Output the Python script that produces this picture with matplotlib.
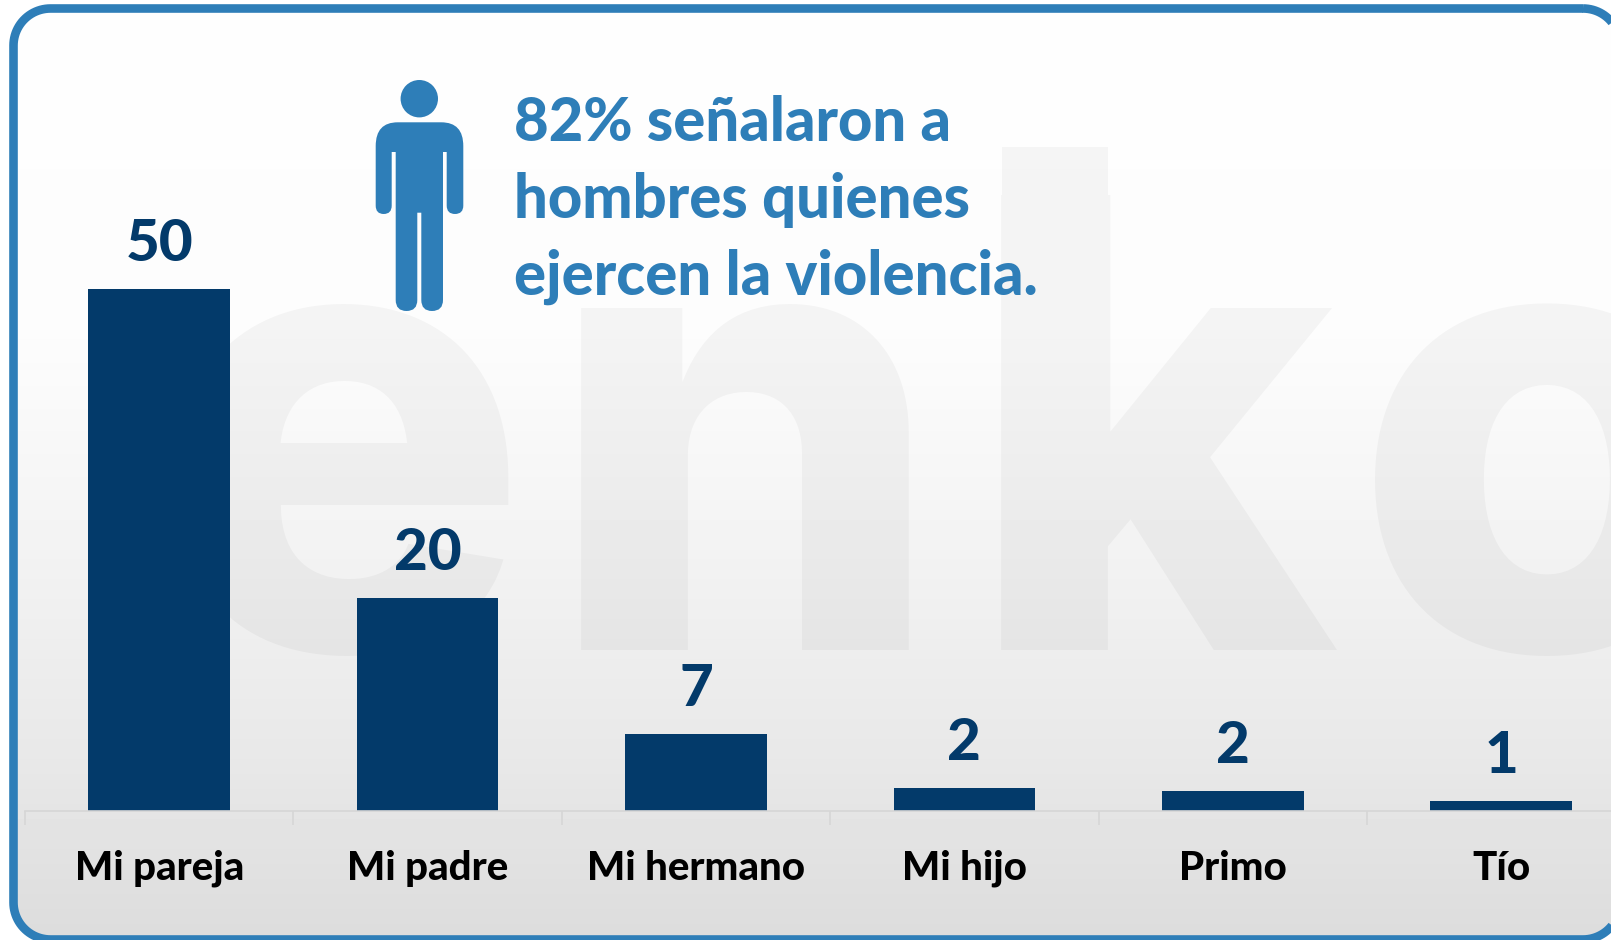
import numpy as np
import matplotlib
matplotlib.use('Agg')
import matplotlib.pyplot as plt
from matplotlib.patches import Circle, PathPatch, Rectangle
from matplotlib.path import Path

# Data (bar heights do not quite follow the printed labels)
categories = ['Mi pareja', 'Mi padre', 'Mi hermano', 'Mi hijo', 'Primo', 'Tío']
bar_heights = [50, 20.4, 7.4, 2.2, 1.9, 0.95]
bar_labels = ['50', '20', '7', '2', '2', '1']
headline = ['82% señalaron a', 'hombres quienes', 'ejercen la violencia.']
headline_baselines = [141, 218, 295]

BLUE = '#2e7eb8'
NAVY = '#033a6a'
W, H = 1611, 940

plt.rcParams['font.family'] = ['Lato', 'DejaVu Sans']

fig = plt.figure(figsize=(W / 100, H / 100), dpi=100, facecolor='white')


def pixel_axes(z):
    a = fig.add_axes([0, 0, 1, 1], zorder=z)
    a.set_xlim(0, W)
    a.set_ylim(H, 0)
    a.axis('off')
    return a


def rounded_rect(x0, y0, x1, y1, r):
    # plain polyline, the curved boxstyle path misbehaves past the figure edge
    pts = []
    corners = [(x1 - r, y0 + r, -90), (x1 - r, y1 - r, 0), (x0 + r, y1 - r, 90), (x0 + r, y0 + r, 180)]
    for cx, cy, start in corners:
        a = np.radians(np.linspace(start, start + 90, 24))
        pts += list(zip(cx + r * np.cos(a), cy + r * np.sin(a)))
    pts.append(pts[0])
    return Path(pts, closed=True)


bg = pixel_axes(0)
fg = pixel_axes(2)

frame_path = rounded_rect(13.5, 8.5, 1620, 939.5, 37)
fg.add_patch(PathPatch(frame_path, facecolor='none', edgecolor=BLUE, linewidth=6.2, clip_on=False))

# Card gradient, clipped to the rounded frame
ys = np.arange(H)
shade = np.interp(ys, [0, 340, 500, 760, 940], [254, 252, 245, 232, 220]) / 255
grad = bg.imshow(shade[:, None], extent=(0, W, H, 0), cmap='gray', vmin=0, vmax=1,
                 aspect='auto', zorder=1)
grad.set_clip_path(frame_path, bg.transData)
bg.set_xlim(0, W)
bg.set_ylim(H, 0)

# Watermark letters
for letter, x in zip('enko', [153, 546, 966, 1353]):
    bg.text(x, 650, letter, fontsize=451, fontweight=800, family='Inter',
            color='black', alpha=0.035, ha='left', va='baseline', zorder=2)
# the k of the logo stands taller than Inter's
bg.add_patch(Rectangle((1002, 147), 106, 48, facecolor='black', edgecolor='none', alpha=0.035, zorder=2))

# Person icon
codes = [Path.MOVETO, Path.LINETO, Path.CURVE3, Path.CURVE3, Path.LINETO,
         Path.CURVE3, Path.CURVE3, Path.CURVE3, Path.CURVE3, Path.LINETO, Path.LINETO,
         Path.LINETO, Path.CURVE3, Path.CURVE3, Path.CURVE3, Path.CURVE3, Path.LINETO,
         Path.LINETO, Path.LINETO, Path.CURVE3, Path.CURVE3, Path.CURVE3, Path.CURVE3,
         Path.LINETO, Path.LINETO, Path.LINETO, Path.CURVE3, Path.CURVE3, Path.CURVE3,
         Path.CURVE3, Path.LINETO, Path.CURVE3, Path.CURVE3, Path.CLOSEPOLY]
verts = [(397.7, 122.3), (441.3, 122.3), (463.3, 122.3), (463.3, 146), (463.3, 205.6),
         (463.3, 214), (455, 214), (446.7, 214), (446.7, 205.6), (446.7, 152), (443, 152),
         (443, 300), (443, 311), (432, 311), (421.3, 311), (421.3, 300), (421.3, 212.7),
         (417.3, 212.7), (417.3, 300), (417.3, 311), (406.5, 311), (395.7, 311), (395.7, 300),
         (395.7, 152), (391.7, 152), (391.7, 205.6), (391.7, 214), (383.7, 214), (375.7, 214),
         (375.7, 205.6), (375.7, 146), (375.7, 122.3), (397.7, 122.3), (397.7, 122.3)]
bg.add_patch(PathPatch(Path(verts, codes), facecolor=BLUE, edgecolor='none', zorder=3))
bg.add_patch(Circle((419.3, 98.7), 18.7, facecolor=BLUE, edgecolor='none', zorder=3))

for line, y in zip(headline, headline_baselines):
    bg.text(514, y, line, fontsize=43, fontweight=900, color=BLUE, ha='left',
            va='baseline', zorder=4)

# Bar chart: 6 slots of 268.4 px, the last runs past the right edge
ax = fig.add_axes([25 / W, (H - 811) / H, 6 * 268.4 / W, 600 / H], zorder=1)
ax.patch.set_alpha(0)
x = np.arange(len(categories)) + 0.5
ax.bar(x, bar_heights, width=141.6 / 268.4, color=NAVY)
ax.set_xlim(0, 6)
ax.set_ylim(0, 600 / 10.44)

for xi, h, lab in zip(x, bar_heights, bar_labels):
    ax.annotate(lab, (xi, h), xytext=(0, 20), textcoords='offset points', ha='center',
                va='baseline', fontsize=42, fontweight=900, color=NAVY)

for side in ['top', 'left', 'right']:
    ax.spines[side].set_visible(False)
ax.spines['bottom'].set_color('#d6d6d6')
ax.spines['bottom'].set_linewidth(1.2)
ax.set_yticks([])
ax.set_xticks(np.arange(7))
ax.set_xticklabels([])
ax.tick_params(axis='x', which='major', length=10, width=1.2, color='#d6d6d6')
ax.set_xticks(x, minor=True)
ax.set_xticklabels(categories, minor=True, fontsize=29, fontweight=900, color='black')
ax.tick_params(axis='x', which='minor', length=0, pad=28)

fig.savefig('out.png', dpi=100)
